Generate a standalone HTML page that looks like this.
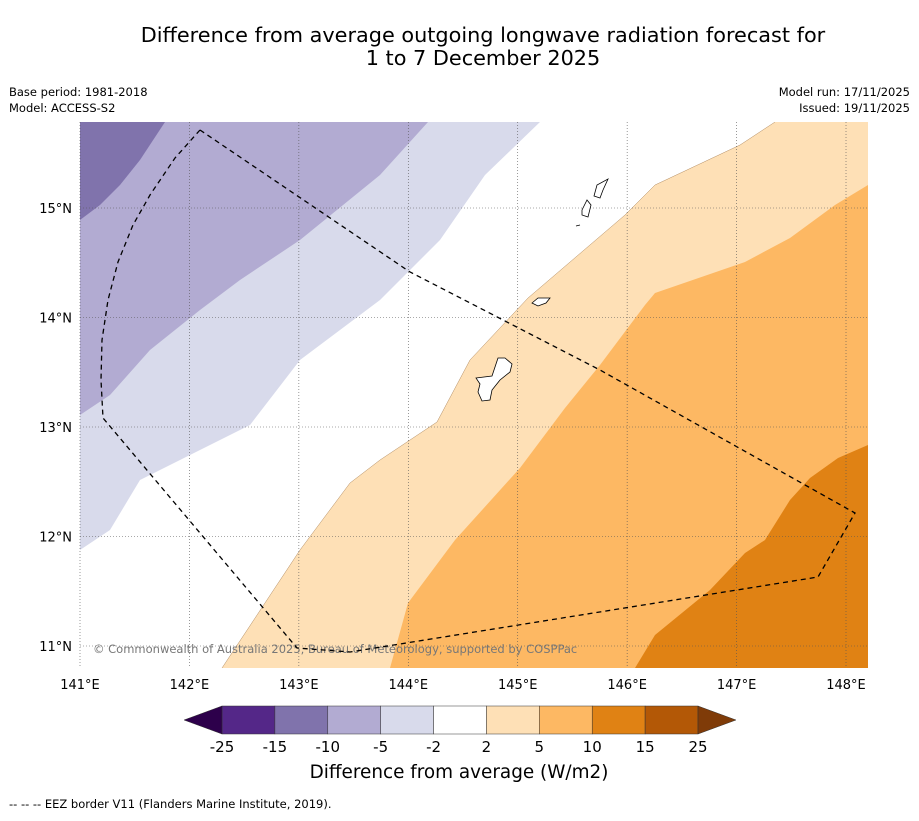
<!DOCTYPE html>
<html><head><meta charset="utf-8"><style>
body{margin:0;background:#fff;font-family:"Liberation Sans",sans-serif;}
svg text{font-family:"DejaVu Sans","Liberation Sans",sans-serif;}
</style></head><body>
<svg id="c" width="919" height="816" viewBox="0 0 919 816" xmlns="http://www.w3.org/2000/svg">
<text x="483" y="42" text-anchor="middle" font-size="20.8">Difference from average outgoing longwave radiation forecast for</text>
<text x="483" y="65" text-anchor="middle" font-size="20.8">1 to 7 December 2025</text>
<text x="9" y="96" font-size="11.5">Base period: 1981-2018</text>
<text x="9" y="112" font-size="11.5">Model: ACCESS-S2</text>
<text x="910" y="96" font-size="11.5" text-anchor="end">Model run: 17/11/2025</text>
<text x="910" y="112" font-size="11.5" text-anchor="end">Issued: 19/11/2025</text>
<defs><clipPath id="mc"><rect x="80" y="122" width="788" height="546"/></clipPath></defs>
<g id="map" clip-path="url(#mc)"></g>
<g id="grid"></g>
<g id="cbar"></g>
<text x="459" y="778" text-anchor="middle" font-size="18.4">Difference from average (W/m2)</text>
<text x="9" y="808" font-size="11.5">--  --  -- EEZ border V11 (Flanders Marine Institute, 2019).</text>
</svg>
<script>
const NS="http://www.w3.org/2000/svg";
const lonTicks=[141,142,143,144,145,146,147,148];
const latTicks=[11,12,13,14,15];
const levels=[-25,-15,-10,-5,-2,2,5,10,15,25];
const levelColors=["#542788","#8073ac","#b2abd2","#d8daeb","#ffffff","#fee0b6","#fdb863","#e08214","#b35806"];
const px2ll=p=>[141+(p[0]-80)/109.43,11+(646-p[1])/109.5];
const regN15=[[80,122],[165,122],[140,160],[120,185],[100,205],[80,220]].map(px2ll);
const regN10=[[80,122],[428,122],[380,175],[300,240],[240,280],[200,310],[150,350],[110,395],[80,415]].map(px2ll);
const regN5=[[80,122],[540,122],[485,175],[440,240],[380,300],[300,360],[250,425],[200,450],[140,480],[110,530],[80,550]].map(px2ll);
const regP2=[[775,122],[868,122],[868,668],[222,668],[300,550],[350,483],[380,460],[437,422],[470,360],[528,298],[625,215],[655,185],[740,145]].map(px2ll);
const regP5=[[868,185],[868,668],[390,668],[408,603],[455,540],[520,468],[565,408],[600,365],[645,305],[655,293],[745,262],[790,238],[835,205]].map(px2ll);
const regP10=[[868,445],[868,668],[635,668],[655,635],[710,590],[745,553],[765,540],[790,500],[810,478],[838,458]].map(px2ll);
const eez=[[200,130],[410,272],[600,370],[855,513],[818,577],[350,652],[297,648],[103,418],[101,380],[102,340],[108,300],[118,262],[133,225],[150,195],[175,158]].map(px2ll);
const guam=[[476,378],[492,376],[498,358],[505,358],[512,364],[510,372],[500,380],[492,390],[490,400],[482,401],[478,392],[480,384],[476,378]].map(px2ll);
const rota=[[532,303],[538,298],[550,298],[546,303],[538,306],[532,303]].map(px2ll);
const saipan=[[594,196],[597,185],[608,179],[603,190],[600,198],[594,196]].map(px2ll);
const tinian=[[582,210],[587,200],[591,205],[588,217],[582,215],[582,210]].map(px2ll);
const aguijan=[[576,226],[580,225]].map(px2ll);
const X=lon=>80+(lon-141)*109.43, Y=lat=>646-(lat-11)*109.5;
const map=document.getElementById('map'),grid=document.getElementById('grid'),cb=document.getElementById('cbar');
function path(g,pts,fill,stroke,extra,name){const p=document.createElementNS(NS,'path');
p.setAttribute('d','M'+pts.map(q=>X(q[0]).toFixed(1)+','+Y(q[1]).toFixed(1)).join('L')+(fill!=='none'?'Z':''));
p.setAttribute('fill',fill);p.setAttribute('stroke',stroke);for(const k in extra)p.setAttribute(k,extra[k]);


g.appendChild(p);}
[[regN5,3,'region-minus5'],[regN10,2,'region-minus10'],[regN15,1,'region-minus15'],[regP2,5,'region-plus2'],[regP5,6,'region-plus5'],[regP10,7,'region-plus10']].forEach(r=>path(map,r[0],levelColors[r[1]],'none',{},r[2]));
path(map,regP2.slice(3).concat([regP2[0]]),'none','#b08a60',{'stroke-width':0.5},'contour-line-2');
const cr=document.createElementNS(NS,'text');cr.setAttribute('x',93);cr.setAttribute('y',653);cr.setAttribute('font-size',11.5);cr.setAttribute('fill','#777');


cr.textContent='© Commonwealth of Australia 2025, Bureau of Meteorology, supported by COSPPac';map.appendChild(cr);
lonTicks.forEach(l=>{const ln=document.createElementNS(NS,'line');ln.setAttribute('x1',X(l));ln.setAttribute('x2',X(l));ln.setAttribute('y1',122);ln.setAttribute('y2',668);ln.setAttribute('stroke','#555');ln.setAttribute('stroke-width',0.6);ln.setAttribute('stroke-dasharray','1,2');


grid.appendChild(ln);
const t=document.createElementNS(NS,'text');t.setAttribute('x',X(l));t.setAttribute('y',689);t.setAttribute('text-anchor','middle');t.setAttribute('font-size',13);t.textContent=l+'°E';


grid.appendChild(t);});
latTicks.forEach(l=>{const ln=document.createElementNS(NS,'line');ln.setAttribute('y1',Y(l));ln.setAttribute('y2',Y(l));ln.setAttribute('x1',80);ln.setAttribute('x2',868);ln.setAttribute('stroke','#555');ln.setAttribute('stroke-width',0.6);ln.setAttribute('stroke-dasharray','1,2');


grid.appendChild(ln);
const t=document.createElementNS(NS,'text');t.setAttribute('x',72);t.setAttribute('y',Y(l)+5);t.setAttribute('text-anchor','end');t.setAttribute('font-size',13);t.textContent=l+'°N';


grid.appendChild(t);});
path(grid,eez.concat([eez[0]]),'none','#000',{'stroke-width':1.3,'stroke-dasharray':'5,4'},'eez-border');
[[guam,'guam'],[rota,'rota'],[saipan,'saipan'],[tinian,'tinian'],[aguijan,'aguijan']].forEach(i=>path(grid,i[0],'#fff','#000',{'stroke-width':0.8},i[1]+'-island'));
const cx0=222,cw=476/9,cy=706,ch=28;
levelColors.forEach((c,i)=>{const r=document.createElementNS(NS,'rect');r.setAttribute('x',cx0+i*cw);r.setAttribute('y',cy);r.setAttribute('width',cw);r.setAttribute('height',ch);r.setAttribute('fill',c);r.setAttribute('stroke','#333');r.setAttribute('stroke-width',0.5);


cb.appendChild(r);});
function tri(pts,fill,name){const p=document.createElementNS(NS,'polygon');p.setAttribute('points',pts);p.setAttribute('fill',fill);p.setAttribute('stroke','#333');p.setAttribute('stroke-width',0.5);


cb.appendChild(p);}
tri(`${cx0},${cy} ${cx0},${cy+ch} 184,${cy+ch/2}`,'#2d004b','colorbar-min-extend');
tri(`${cx0+476},${cy} ${cx0+476},${cy+ch} 736,${cy+ch/2}`,'#7f3b08','colorbar-max-extend');
levels.forEach((v,i)=>{const t=document.createElementNS(NS,'text');t.setAttribute('x',cx0+i*cw);t.setAttribute('y',752);t.setAttribute('text-anchor','middle');t.setAttribute('font-size',15);t.textContent=v;


cb.appendChild(t);});
</script>
</body></html>
